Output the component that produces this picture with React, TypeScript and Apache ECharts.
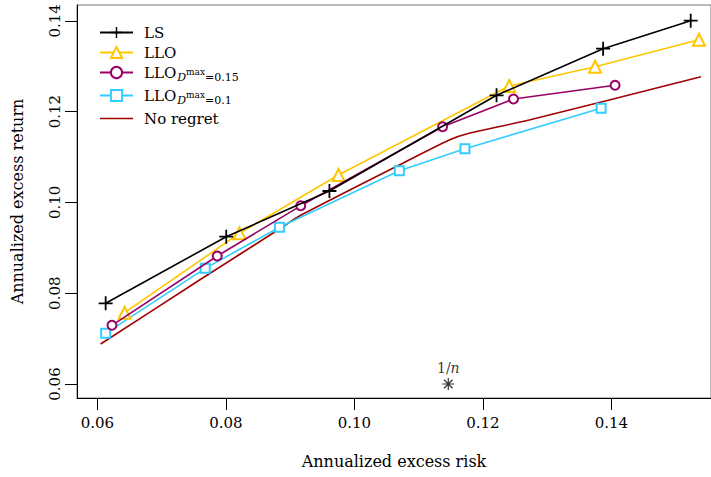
import React, { useEffect, useRef } from 'react';
import * as echarts from 'echarts';

const lsX = [0.06129, 0.08006, 0.09612, 0.12213, 0.13872, 0.15235];
const lsY = [0.07778, 0.09245, 0.10251, 0.12359, 0.13386, 0.14002];
const lloX = [0.06424, 0.08212, 0.09752, 0.1241, 0.13747, 0.15364];
const lloY = [0.07571, 0.09319, 0.10604, 0.12564, 0.12989, 0.13584];
const llo15X = [0.06227, 0.07866, 0.09165, 0.11373, 0.12477, 0.14058];
const llo15Y = [0.07293, 0.08819, 0.09925, 0.11667, 0.12278, 0.12579];
const llo10X = [0.06129, 0.07679, 0.08834, 0.107, 0.11721, 0.13841];
const llo10Y = [0.07117, 0.08548, 0.09452, 0.10698, 0.11183, 0.12073];
const noRegretX = [0.06051, 0.0759, 0.08834, 0.09145, 0.107, 0.11477, 0.11788, 0.12721, 0.15395];
const noRegretY = [0.06881, 0.08291, 0.09414, 0.097, 0.10824, 0.11374, 0.11522, 0.11815, 0.12769];
const equalWeightX = [0.11462];
const equalWeightY = [0.06];
const xTicks = [0.06, 0.08, 0.1, 0.12, 0.14];
const yTicks = [0.06, 0.08, 0.1, 0.12, 0.14];

const FONT = 'DejaVu Serif';
const PLUS = 'path://M0,6.1H14V7.9H0Z M6.1,0H7.9V14H6.1Z';
const STAR =
  'path://M0,5.4H12V6.6H0Z M5.4,0H6.6V12H5.4Z M2.18,1.34L10.66,9.82L9.82,10.66L1.34,2.18Z M9.82,1.34L10.66,2.18L2.18,10.66L1.34,9.82Z';
const LINE_ICON = 'path://M0,6.2H33V7.8H0Z';

const zip = (xs: number[], ys: number[]) => xs.map((x, i) => [x, ys[i]]);

export default function App() {
  const ref = useRef<HTMLDivElement>(null);
  useEffect(() => {
    document.body.style.margin = '0';
    const chart = echarts.init(ref.current!, undefined, { renderer: 'svg' });
    const legendNames: Record<string, string> = {
      LS: '{n|LS}',
      LLO: '{n|LLO}',
      'LLO D15': '{n|LLO}{d|D}{m|max}{s|=0.15}',
      'LLO D10': '{n|LLO}{d|D}{m|max}{s|=0.1}',
      'No regret': '{n|No regret}',
    };
    chart.setOption({
      animation: false,
      backgroundColor: '#ffffff',
      grid: {
        left: 77,
        top: 5,
        right: -1,
        bottom: 79,
        show: true,
        borderColor: '#777',
        borderWidth: 1,
      },
      legend: {
        orient: 'vertical',
        left: 94,
        top: 20,
        itemWidth: 33,
        itemHeight: 14,
        itemGap: 5,
        data: [
          'LS',
          'LLO',
          'LLO D15',
          'LLO D10',
          { name: 'No regret', icon: LINE_ICON, itemStyle: { color: '#a00000' } },
        ],
        formatter: (name: string) => legendNames[name],
        textStyle: {
          fontFamily: FONT,
          color: '#000',
          padding: [0, 0, 0, 6],
          rich: {
            n: { fontFamily: FONT, fontSize: 15, color: '#000' },
            d: { fontFamily: FONT, fontSize: 11, fontStyle: 'italic', color: '#000', padding: [9, 0, 0, 1] },
            m: { fontFamily: FONT, fontSize: 9, color: '#000', padding: [0, 0, 1, 0] },
            s: { fontFamily: FONT, fontSize: 11, color: '#000', padding: [10, 0, 0, 0] },
          },
        },
      },
      xAxis: {
        type: 'value',
        min: 0.05683,
        max: 0.15551,
        name: 'Annualized excess risk',
        nameLocation: 'middle',
        nameGap: 55,
        nameTextStyle: { fontFamily: FONT, fontSize: 16, color: '#000' },
        splitLine: { show: false },
        axisLine: { show: true, lineStyle: { color: '#000', width: 1 } },
        axisTick: { show: true, length: 12, lineStyle: { color: '#000' }, customValues: xTicks },
        axisLabel: {
          fontFamily: FONT,
          fontSize: 15,
          color: '#000',
          margin: 17,
          customValues: xTicks,
          formatter: (v: number) => v.toFixed(2),
        },
      },
      yAxis: {
        type: 'value',
        min: 0.05692,
        max: 0.14348,
        name: 'Annualized excess return',
        nameLocation: 'middle',
        nameGap: 52,
        nameTextStyle: { fontFamily: FONT, fontSize: 16, color: '#000' },
        splitLine: { show: false },
        axisLine: { show: true, lineStyle: { color: '#000', width: 1 } },
        axisTick: { show: true, length: 12, lineStyle: { color: '#000' }, customValues: yTicks },
        axisLabel: {
          fontFamily: FONT,
          fontSize: 15,
          color: '#000',
          margin: 15,
          rotate: 90,
          customValues: yTicks,
          formatter: (v: number) => v.toFixed(2),
        },
      },
      series: [
        {
          name: 'LS',
          type: 'line',
          data: zip(lsX, lsY),
          symbol: PLUS,
          symbolSize: 14,
          color: '#000000',
          lineStyle: { color: '#000000', width: 1.6 },
          itemStyle: { color: '#000000' },
          z: 5,
        },
        {
          name: 'LLO',
          type: 'line',
          data: zip(lloX, lloY),
          symbol: 'emptyTriangle',
          symbolSize: 12,
          color: '#ffc600',
          lineStyle: { color: '#ffc600', width: 1.6 },
          itemStyle: { color: '#ffc600', borderWidth: 1.8 },
          z: 3,
        },
        {
          name: 'LLO D15',
          type: 'line',
          data: zip(llo15X, llo15Y),
          symbol: 'emptyCircle',
          symbolSize: 9,
          color: '#990066',
          lineStyle: { color: '#990066', width: 1.6 },
          itemStyle: { color: '#990066', borderWidth: 1.8 },
          z: 4,
        },
        {
          name: 'LLO D10',
          type: 'line',
          data: zip(llo10X, llo10Y),
          symbol: 'emptyRect',
          symbolSize: 9,
          color: '#33ccff',
          lineStyle: { color: '#33ccff', width: 1.6 },
          itemStyle: { color: '#33ccff', borderWidth: 1.8 },
          z: 3,
        },
        {
          name: 'No regret',
          type: 'line',
          data: zip(noRegretX, noRegretY),
          symbol: 'none',
          smooth: 0.2,
          color: '#a00000',
          lineStyle: { color: '#a00000', width: 1.6 },
          z: 2,
        },
        {
          name: '1/n',
          type: 'scatter',
          data: zip(equalWeightX, equalWeightY),
          symbol: STAR,
          symbolSize: 12,
          itemStyle: { color: '#000' },
          label: {
            show: true,
            position: 'top',
            distance: 3,
            formatter: '{a|1/}{b|n}',
            rich: {
              a: { fontFamily: FONT, fontSize: 14, color: '#000' },
              b: { fontFamily: FONT, fontSize: 14, fontStyle: 'italic', color: '#000' },
            },
          },
        },
      ],
    });
    return () => chart.dispose();
  }, []);
  return <div ref={ref} style={{ width: 711, height: 477 }} />;
}
